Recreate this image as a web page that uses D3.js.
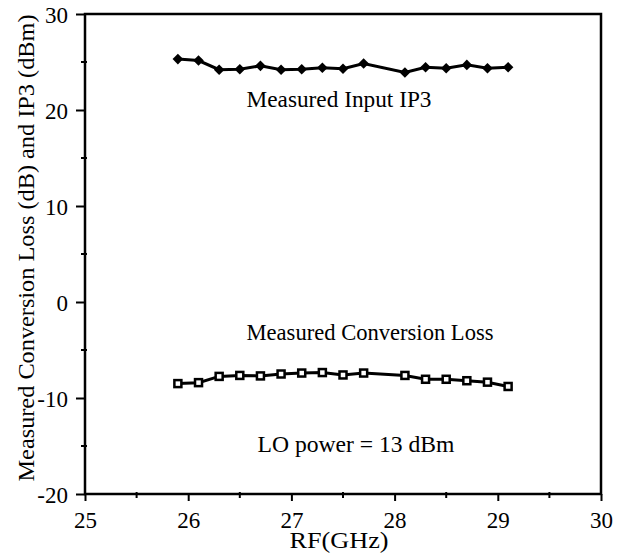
<!DOCTYPE html>
<html>
<head>
<meta charset="utf-8">
<script src="https://cdn.jsdelivr.net/npm/d3@7"></script>
<style>
  body { margin: 0; background: #fff; }
  text { font-family: "Liberation Serif", "DejaVu Serif", serif; fill: #000; }
</style>
</head>
<body>
<div id="chartDiv"></div>
<script>
//--------------------------------------------------------------------------------
// values
var freqs    = [25.9, 26.1, 26.3, 26.5, 26.7, 26.9, 27.1, 27.3, 27.5, 27.7,
                28.1, 28.3, 28.5, 28.7, 28.9, 29.1];
var ip3      = [25.3, 25.15, 24.2, 24.25, 24.6, 24.2, 24.25, 24.4, 24.3, 24.85,
                23.9, 24.45, 24.35, 24.7, 24.35, 24.45];
var convLoss = [-8.5, -8.4, -7.75, -7.65, -7.7, -7.5, -7.4, -7.35, -7.6, -7.4,
                -7.65, -8.05, -8.05, -8.2, -8.35, -8.8];
var xTicks = [25, 26, 27, 28, 29, 30];
var yTicks = [-20, -10, 0, 10, 20, 30];
var xMinor = [25.5, 26.5, 27.5, 28.5, 29.5];
var yMinor = [-15, -5, 5, 15, 25];
//--------------------------------------------------------------------------------
var chartWidth = 621, chartHeight = 553;
var plotLeft = 85, plotRight = 601, plotTop = 14, plotBottom = 494;

var svg = d3.select("#chartDiv").append("svg")
    .attr("width", chartWidth)
    .attr("height", chartHeight);

var xScale = d3.scaleLinear().domain([25, 30]).range([plotLeft, plotRight]);
var yScale = d3.scaleLinear().domain([-20, 30]).range([plotBottom, plotTop]);

   // frame: left/bottom axes plus top/right border lines
svg.append("path")
   .attr("d", "M" + plotLeft + "," + plotTop + "H" + plotRight + "V" + plotBottom +
              "H" + plotLeft + "Z")
   .attr("fill", "none")
   .attr("stroke", "#000")
   .attr("stroke-width", 2.5);

   // plain hyphen for negatives, like the original
var plainFormat = function(d){ return String(d); };

var yAxis = d3.axisLeft(yScale).tickValues(yTicks).tickSize(9).tickPadding(8)
              .tickFormat(plainFormat);
var gy = svg.append("g").attr("transform", "translate(" + plotLeft + ",0)").call(yAxis);

var xAxis = d3.axisBottom(xScale).tickValues(xTicks).tickSize(7).tickPadding(10)
              .tickFormat(plainFormat);
var gx = svg.append("g").attr("transform", "translate(0," + plotBottom + ")").call(xAxis);

[gx, gy].forEach(function(g){
   g.select(".domain").remove();
   g.selectAll("line").attr("stroke", "#000").attr("stroke-width", 2);
   g.selectAll("text")
    .style("font-family", "Liberation Serif, serif")
    .style("font-size", "23px")
    .attr("fill", "#000");
   });
gy.selectAll("text").attr("dy", "0.36em");
gx.selectAll("text").attr("dy", "0.75em");

   // minor ticks
svg.selectAll(".yminor").data(yMinor).enter().append("line")
   .attr("x1", plotLeft - 4).attr("x2", plotLeft + 2)
   .attr("y1", function(d){ return yScale(d); })
   .attr("y2", function(d){ return yScale(d); })
   .attr("stroke", "#000").attr("stroke-width", 2);

svg.selectAll(".xminor").data(xMinor).enter().append("line")
   .attr("x1", function(d){ return xScale(d); })
   .attr("x2", function(d){ return xScale(d); })
   .attr("y1", plotBottom - 2).attr("y2", plotBottom + 4)
   .attr("stroke", "#000").attr("stroke-width", 2);

//--------------------------------------------------------------------------------
var ip3Data  = freqs.map(function(f, i){ return {x: f, y: ip3[i]}; });
var lossData = freqs.map(function(f, i){ return {x: f, y: convLoss[i]}; });

var line = d3.line()
   .x(function(d){ return xScale(d.x); })
   .y(function(d){ return yScale(d.y); });

svg.append("path").datum(ip3Data)
   .attr("d", line).attr("fill", "none")
   .attr("stroke", "#000").attr("stroke-width", 3);

svg.append("path").datum(lossData)
   .attr("d", line).attr("fill", "none")
   .attr("stroke", "#000").attr("stroke-width", 3);

var diamond = d3.symbol().type(d3.symbolSquare).size(56);
svg.selectAll(".ip3pt").data(ip3Data).enter().append("path")
   .attr("d", diamond)
   .attr("transform", function(d){
      return "translate(" + xScale(d.x) + "," + yScale(d.y) + ") rotate(45)";
      })
   .attr("fill", "#000");

svg.selectAll(".losspt").data(lossData).enter().append("rect")
   .attr("x", function(d){ return xScale(d.x) - 3.5; })
   .attr("y", function(d){ return yScale(d.y) - 3.5; })
   .attr("width", 7).attr("height", 7)
   .attr("fill", "#fff")
   .attr("stroke", "#000").attr("stroke-width", 2.5);

//--------------------------------------------------------------------------------
   // annotations
function label(txt, x, y, len) {
   svg.append("text")
      .attr("x", x).attr("y", y)
      .attr("text-anchor", "middle")
      .attr("textLength", len)
      .attr("lengthAdjust", "spacingAndGlyphs")
      .style("font-size", "23px")
      .text(txt);
}
label("Measured Input IP3", 339, 107, 185);
label("Measured Conversion Loss", 370, 340, 247);
label("LO power = 13 dBm", 356, 452, 197);
label("RF(GHz)", 339, 548, 99);

svg.append("text")
   .attr("transform", "translate(34,248) rotate(-90)")
   .attr("text-anchor", "middle")
   .attr("textLength", 467)
   .attr("lengthAdjust", "spacingAndGlyphs")
   .style("font-size", "23px")
   .text("Measured Conversion Loss (dB) and IP3 (dBm)");
</script>
</body>
</html>
